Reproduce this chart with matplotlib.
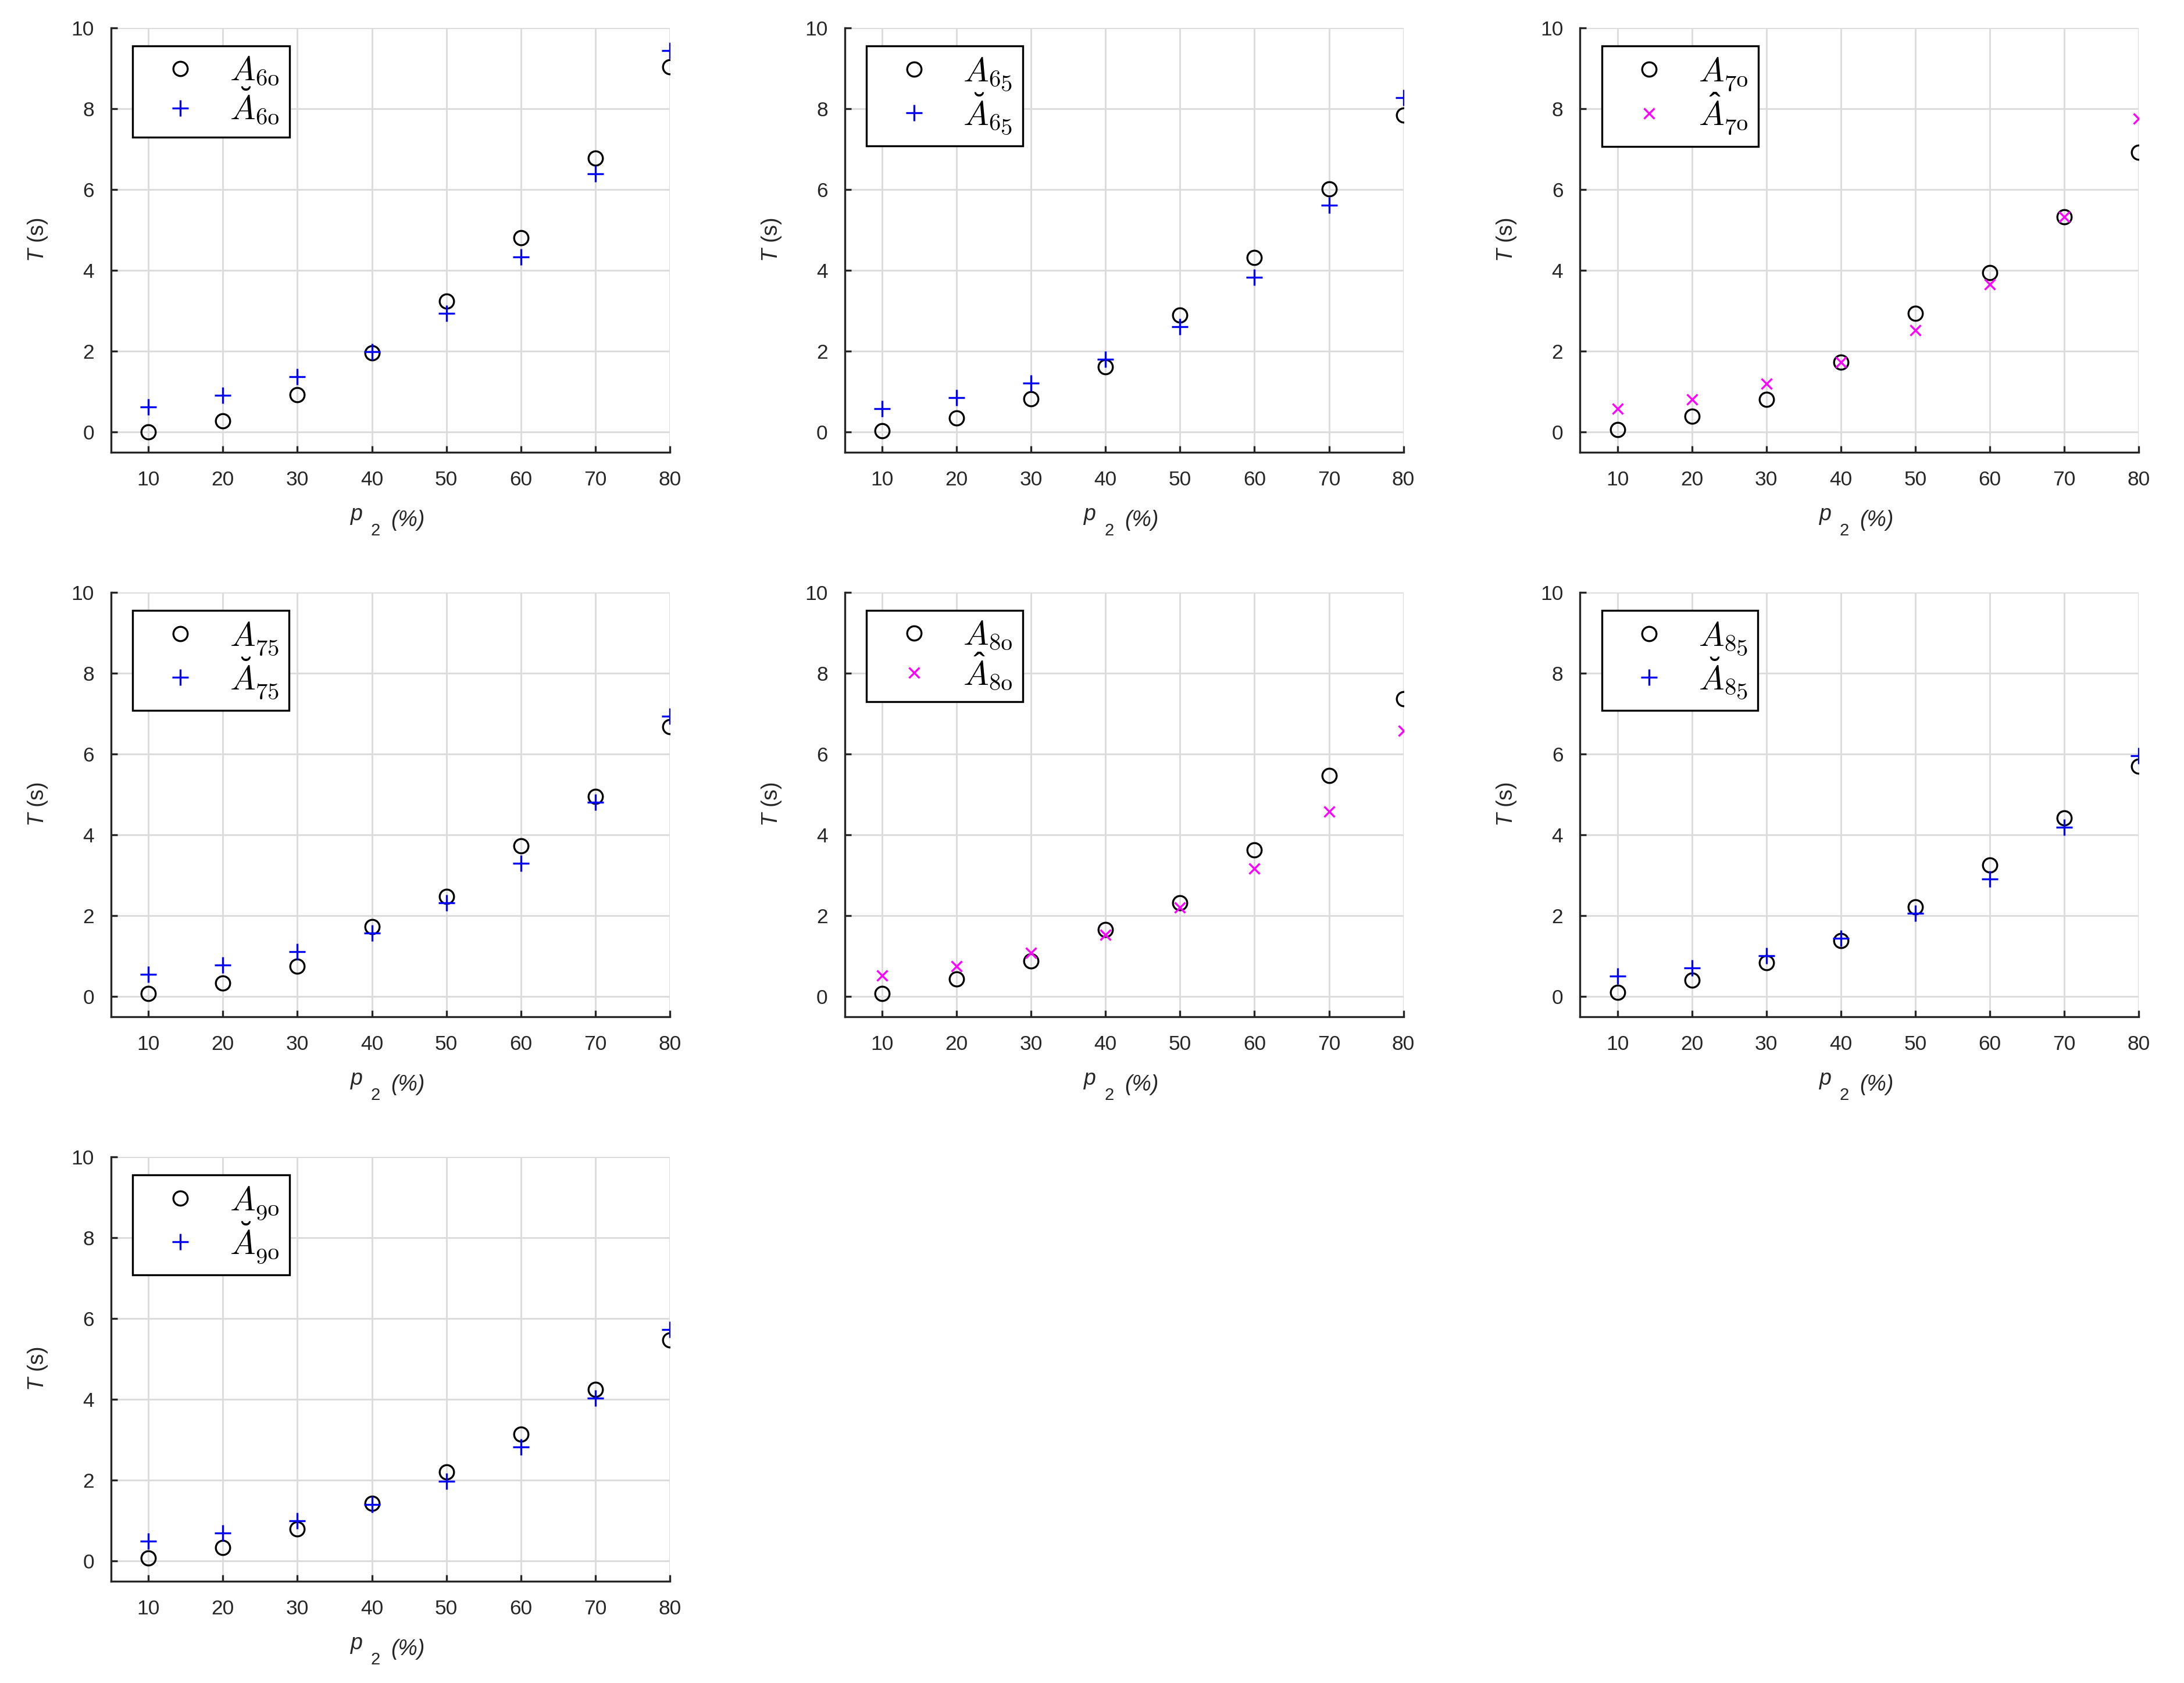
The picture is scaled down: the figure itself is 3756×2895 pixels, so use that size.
import matplotlib
matplotlib.use("Agg")
import matplotlib.pyplot as plt

plt.rcParams['font.family'] = ['Liberation Sans', 'DejaVu Sans']
plt.rcParams['mathtext.fontset'] = 'custom'
plt.rcParams['mathtext.it'] = 'Liberation Sans:italic'
plt.rcParams['mathtext.rm'] = 'Liberation Sans'
plt.rcParams['mathtext.bf'] = 'Liberation Sans:italic'
plt.rcParams['mathtext.sf'] = 'cmmi10'

p2 = [10, 20, 30, 40, 50, 60, 70, 80]

A60 = [0.00, 0.27, 0.92, 1.95, 3.24, 4.81, 6.78, 9.03]
A60_breve = [0.62, 0.90, 1.36, 1.98, 2.93, 4.33, 6.39, 9.44]
A65 = [0.02, 0.34, 0.82, 1.61, 2.89, 4.32, 6.01, 7.84]
A65_breve = [0.57, 0.84, 1.21, 1.79, 2.61, 3.82, 5.61, 8.27]
A70 = [0.05, 0.39, 0.81, 1.73, 2.94, 3.94, 5.33, 6.92]
A70_hat = [0.57, 0.81, 1.19, 1.73, 2.51, 3.65, 5.32, 7.76]
A75 = [0.07, 0.33, 0.75, 1.73, 2.47, 3.72, 4.95, 6.67]
A75_breve = [0.54, 0.77, 1.10, 1.57, 2.31, 3.30, 4.80, 6.93]
A80 = [0.07, 0.43, 0.88, 1.66, 2.31, 3.63, 5.47, 7.37]
A80_hat = [0.52, 0.74, 1.08, 1.53, 2.20, 3.17, 4.57, 6.58]
A85 = [0.10, 0.40, 0.83, 1.38, 2.21, 3.25, 4.41, 5.69]
A85_breve = [0.50, 0.70, 1.01, 1.43, 2.05, 2.90, 4.18, 5.95]
A90 = [0.07, 0.33, 0.79, 1.42, 2.20, 3.14, 4.24, 5.46]
A90_breve = [0.49, 0.69, 0.99, 1.39, 1.97, 2.82, 4.03, 5.72]

panels = [
    ('60', A60, A60_breve, 'breve'),
    ('65', A65, A65_breve, 'breve'),
    ('70', A70, A70_hat, 'hat'),
    ('75', A75, A75_breve, 'breve'),
    ('80', A80, A80_hat, 'hat'),
    ('85', A85, A85_breve, 'breve'),
    ('90', A90, A90_breve, 'breve'),
]

xticks = [10, 20, 30, 40, 50, 60, 70, 80]
yticks = [0, 2, 4, 6, 8, 10]

fig = plt.figure(figsize=(3756 / 300, 2895 / 300), dpi=300)

col_left = [0.0509, 0.3868, 0.7235]
row_bottom = [0.7314, 0.3960, 0.0606]
w, h = 0.2558, 0.2520
axcol = '#262626'

for k, (th, base, alt, kind) in enumerate(panels):
    r, c = divmod(k, 3)
    ax = fig.add_axes([col_left[c], row_bottom[r], w, h])
    ax.plot(p2, base, linestyle='none', marker='o', markersize=5.9,
            markerfacecolor='none', markeredgecolor='black', markeredgewidth=0.8,
            label=r'$\mathsf{A}_{\mathsf{%s}}$' % th)
    if kind == 'breve':
        ax.plot(p2, alt, linestyle='none', marker='+', markersize=6.8,
                color='#0000FF', markeredgewidth=0.8,
                label=r'$\breve{\mathsf{A}}_{\mathsf{%s}}$' % th)
    else:
        ax.plot(p2, alt, linestyle='none', marker='x', markersize=4.4,
                color='#FF00FF', markeredgewidth=0.8,
                label=r'$\hat{\mathsf{A}}_{\mathsf{%s}}$' % th)
    ax.set_xlim(5, 80)
    ax.set_ylim(-0.5, 10)
    ax.set_xticks(xticks)
    ax.set_yticks(yticks)
    ax.grid(True, color='#dcdcdc', linewidth=0.7)
    ax.set_axisbelow(True)
    for s in ['top', 'right']:
        ax.spines[s].set_visible(False)
    for s in ['left', 'bottom']:
        ax.spines[s].set_color(axcol)
        ax.spines[s].set_linewidth(0.8)
    ax.tick_params(direction='in', length=2.6, width=0.8, colors=axcol,
                   labelsize=8.5, top=False, right=False)
    ax.tick_params(axis='x', pad=7.5)
    ax.tick_params(axis='y', pad=7)
    # x-axis label "p_2 (%)" drawn as three pieces, as in the reference
    ax.text(0.439, -0.1477, 'p', transform=ax.transAxes, ha='center',
            va='center', fontsize=9, fontstyle='italic', color=axcol)
    ax.text(0.473, -0.186, '2', transform=ax.transAxes, ha='center',
            va='center', fontsize=7, color=axcol)
    ax.text(0.531, -0.1606, '(%)', transform=ax.transAxes, ha='center',
            va='center', fontsize=9, fontstyle='italic', color=axcol)
    ax.set_ylabel(r'$T$ (s)', fontsize=9, color=axcol, labelpad=9)
    leg = ax.legend(loc='upper left', bbox_to_anchor=(0.0386, 0.958),
                    borderaxespad=0, fancybox=False, framealpha=1,
                    edgecolor='black', fontsize=14,
                    handlelength=2.2, handletextpad=0.35, labelspacing=-0.02,
                    borderpad=0.3)
    leg.get_frame().set_linewidth(0.8)

fig.savefig('out.png', dpi=300)
